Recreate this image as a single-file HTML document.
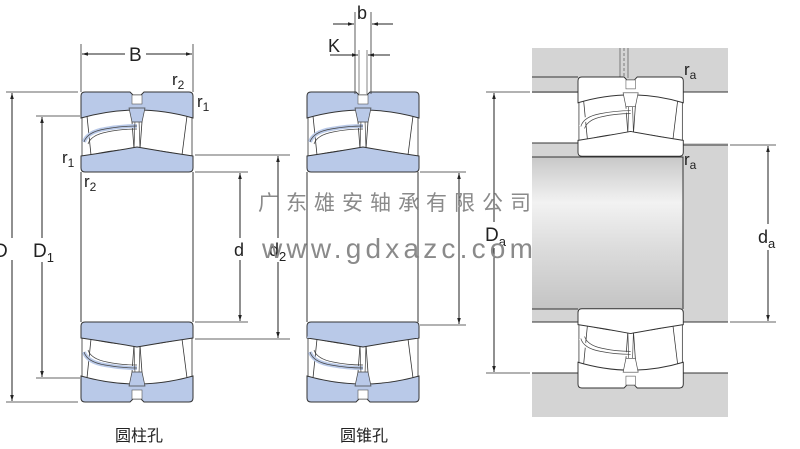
<!DOCTYPE html>
<html><head><meta charset="utf-8"><style>
html,body{margin:0;padding:0;background:#fff;}
svg{display:block;}
text{font-family:"Liberation Sans","Noto Sans CJK SC",sans-serif;fill:#222;}
</style></head><body>
<svg width="800" height="449" viewBox="0 0 800 449" xmlns="http://www.w3.org/2000/svg">
<defs>
<marker id="ar" viewBox="0 0 10 10" refX="10" refY="5" markerWidth="9" markerHeight="6" orient="auto-start-reverse"><path d="M0,2 L10,5 L0,8 z" fill="#222"/></marker>
<linearGradient id="sh" x1="0" y1="0" x2="0" y2="1">
<stop offset="0" stop-color="#c8c8c8"/><stop offset="0.3" stop-color="#f2f2f2"/><stop offset="0.6" stop-color="#dcdcdc"/><stop offset="1" stop-color="#c4c4c4"/></linearGradient>
<g id="half">
 <path d="M1,22 V64 M111,22 V64" stroke="#333" stroke-width="0.8"/>
 <path d="M6,24 Q28,18 50,16 L53,57 Q30,58 10,63Z" fill="#fff" stroke="#333" stroke-width="0.8"/>
 <path d="M62,16 Q86,18 106,24 L101,63 Q80,58 59,57Z" fill="#fff" stroke="#333" stroke-width="0.8"/>
 <path d="M3,50 Q6,40 24,37 Q40,34 56,34" fill="none" stroke="var(--f)" stroke-width="4"/>
 <path d="M3,50 Q6,40 24,37 Q40,34 56,34 M7,52 Q10,43 26,40 Q40,37 56,37" fill="none" stroke="#444" stroke-width="0.7"/>
 <line x1="54" y1="28" x2="53" y2="58" stroke="#444" stroke-width="0.7"/>
 <line x1="58" y1="28" x2="59" y2="58" stroke="#444" stroke-width="0.7"/>
 <path d="M4,0 H49 L52,3 H60 L63,0 H108 Q112,0 112,4 V26 Q56,10 0,26 V4 Q0,0 4,0Z" fill="var(--f)" stroke="#333" stroke-width="1"/>
 <rect x="51" y="3" width="10" height="9" fill="#fff" stroke="#555" stroke-width="0.6"/>
 <path d="M48,16 L64,16 L61,30 L51,30Z" fill="var(--f)" stroke="#444" stroke-width="0.7"/>
 <path d="M0,64 Q28,60 56,55 Q84,60 112,64 V76 Q112,80 108,80 H4 Q0,80 0,76Z" fill="var(--f)" stroke="#333" stroke-width="1"/>
</g>
</defs>

<!-- left bearing -->
<g style="--f:#b9c9e8">
<use href="#half" x="81" y="92"/>
<use href="#half" transform="translate(81,402) scale(1,-1)"/>
</g>
<line x1="81" y1="172" x2="81" y2="322" stroke="#333"/>
<line x1="193" y1="172" x2="193" y2="322" stroke="#333"/>
<line x1="81" y1="44" x2="81" y2="92" stroke="#333" stroke-width="0.8"/>
<line x1="193" y1="44" x2="193" y2="92" stroke="#333" stroke-width="0.8"/>
<line x1="82" y1="54" x2="125" y2="54" stroke="#222" marker-start="url(#ar)"/>
<line x1="146" y1="54" x2="192" y2="54" stroke="#222" marker-end="url(#ar)"/>
<text x="129" y="61" font-size="19">B</text>
<text x="172" y="85" font-size="17">r<tspan font-size="12" dy="4">2</tspan></text>
<text x="197" y="107" font-size="17">r<tspan font-size="12" dy="4">1</tspan></text>
<text x="62" y="163" font-size="17">r<tspan font-size="12" dy="4">1</tspan></text>
<text x="84" y="187" font-size="17">r<tspan font-size="12" dy="4">2</tspan></text>
<!-- D -->
<line x1="6" y1="92" x2="78" y2="92" stroke="#333" stroke-width="0.8"/>
<line x1="6" y1="402" x2="78" y2="402" stroke="#333" stroke-width="0.8"/>
<line x1="12" y1="93" x2="12" y2="401" stroke="#222" marker-start="url(#ar)" marker-end="url(#ar)"/>
<rect x="0" y="238" width="20" height="22" fill="#fff"/>
<text x="-6" y="257" font-size="19">D</text>
<line x1="36" y1="116" x2="80" y2="116" stroke="#333" stroke-width="0.8"/>
<line x1="36" y1="378" x2="80" y2="378" stroke="#333" stroke-width="0.8"/>
<line x1="42" y1="117" x2="42" y2="377" stroke="#222" marker-start="url(#ar)" marker-end="url(#ar)"/>
<rect x="32" y="238" width="26" height="24" fill="#fff"/>
<text x="33" y="257" font-size="19">D<tspan font-size="13" dy="5">1</tspan></text>
<!-- d, d2 -->
<line x1="195" y1="172" x2="248" y2="172" stroke="#333" stroke-width="0.8"/>
<line x1="195" y1="322" x2="248" y2="322" stroke="#333" stroke-width="0.8"/>
<line x1="240" y1="173" x2="240" y2="321" stroke="#222" marker-start="url(#ar)" marker-end="url(#ar)"/>
<rect x="232" y="238" width="16" height="22" fill="#fff"/>
<text x="234" y="256" font-size="18">d</text>
<line x1="195" y1="155" x2="290" y2="155" stroke="#333" stroke-width="0.8"/>
<line x1="195" y1="339" x2="290" y2="339" stroke="#333" stroke-width="0.8"/>
<line x1="278" y1="156" x2="278" y2="338" stroke="#222" marker-start="url(#ar)" marker-end="url(#ar)"/>
<rect x="268" y="238" width="24" height="24" fill="#fff"/>
<text x="269" y="256" font-size="18">d<tspan font-size="13" dy="5">2</tspan></text>

<!-- middle bearing -->
<g style="--f:#b9c9e8">
<use href="#half" x="307" y="92"/>
<use href="#half" transform="translate(307,402) scale(1,-1)"/>
</g>
<path d="M309,328 L416,324 L418,338 H307Z" fill="#b9c9e8"/>
<line x1="307" y1="172" x2="307" y2="322" stroke="#333"/>
<line x1="418" y1="172" x2="418" y2="322" stroke="#333"/>
<line x1="355" y1="12" x2="355" y2="94" stroke="#333" stroke-width="0.8"/>
<line x1="371" y1="12" x2="371" y2="94" stroke="#333" stroke-width="0.8"/>
<line x1="359" y1="50" x2="359" y2="94" stroke="#333" stroke-width="0.6"/>
<line x1="367" y1="50" x2="367" y2="94" stroke="#333" stroke-width="0.6"/>
<line x1="333" y1="24" x2="354" y2="24" stroke="#222" marker-end="url(#ar)"/>
<line x1="393" y1="24" x2="372" y2="24" stroke="#222" marker-end="url(#ar)"/>
<text x="357" y="19" font-size="18">b</text>
<line x1="330" y1="55" x2="358" y2="55" stroke="#222" marker-end="url(#ar)"/>
<line x1="390" y1="55" x2="368" y2="55" stroke="#222" marker-end="url(#ar)"/>
<text x="328" y="52" font-size="18">K</text>
<line x1="420" y1="172" x2="466" y2="172" stroke="#333" stroke-width="0.8"/>
<line x1="420" y1="325" x2="466" y2="325" stroke="#333" stroke-width="0.8"/>
<line x1="459" y1="173" x2="459" y2="324" stroke="#222" marker-start="url(#ar)" marker-end="url(#ar)"/>

<!-- right drawing -->
<rect x="532" y="48" width="196" height="44" fill="#d4d4d4"/>
<rect x="532" y="77" width="46" height="16" fill="#d4d4d4"/>
<rect x="532" y="143" width="196" height="14" fill="#d4d4d4"/>
<rect x="532" y="157" width="151" height="152" fill="url(#sh)"/>
<rect x="683" y="145" width="45" height="177" fill="#d4d4d4"/>
<rect x="532" y="309" width="151" height="13" fill="#d4d4d4"/>
<rect x="532" y="373" width="196" height="44" fill="#d4d4d4"/>
<g stroke="#333" stroke-width="1" fill="none">
<path d="M532,77 H578 M532,92 H578 M683,92 H728 M532,143 H578 M532,157 H683 V309 M683,145 H728 M532,309 H578 M532,322 H578 M683,322 H728 M532,373 H578 M683,373 H728"/>
</g>
<line x1="624" y1="48" x2="624" y2="78" stroke="#555" stroke-width="0.7" stroke-dasharray="3,2"/>
<line x1="628" y1="48" x2="628" y2="78" stroke="#555" stroke-width="0.7"/>
<line x1="620" y1="48" x2="620" y2="78" stroke="#555" stroke-width="0.7"/>
<g style="--f:#fff">
<use href="#half" transform="translate(578,77) scale(0.94,0.99)"/>
<use href="#half" transform="translate(578,388) scale(0.94,-0.99)"/>
</g>
<text x="684" y="75" font-size="17">r<tspan font-size="12" dy="4">a</tspan></text>
<text x="684" y="165" font-size="17">r<tspan font-size="12" dy="4">a</tspan></text>
<line x1="486" y1="92" x2="530" y2="92" stroke="#333" stroke-width="0.8"/>
<line x1="486" y1="373" x2="530" y2="373" stroke="#333" stroke-width="0.8"/>
<line x1="494" y1="93" x2="494" y2="372" stroke="#222" marker-start="url(#ar)" marker-end="url(#ar)"/>
<rect x="485" y="222" width="24" height="26" fill="#fff"/>
<text x="485" y="241" font-size="19">D<tspan font-size="13" dy="5">a</tspan></text>
<line x1="730" y1="145" x2="776" y2="145" stroke="#333" stroke-width="0.8"/>
<line x1="730" y1="322" x2="776" y2="322" stroke="#333" stroke-width="0.8"/>
<line x1="768" y1="146" x2="768" y2="321" stroke="#222" marker-start="url(#ar)" marker-end="url(#ar)"/>
<rect x="756" y="224" width="24" height="26" fill="#fff"/>
<text x="758" y="243" font-size="18">d<tspan font-size="13" dy="5">a</tspan></text>

<!-- watermark -->
<text x="258" y="210" font-size="21" letter-spacing="7" style="fill:#8a8a8a">广东雄安轴承有限公司</text>
<text x="262" y="258" font-size="28" letter-spacing="4.2" style="fill:#8a8a8a">www.gdxazc.com</text>

<text x="115" y="441" font-size="16">圆柱孔</text>
<text x="340" y="441" font-size="16">圆锥孔</text>
</svg>
</body></html>
